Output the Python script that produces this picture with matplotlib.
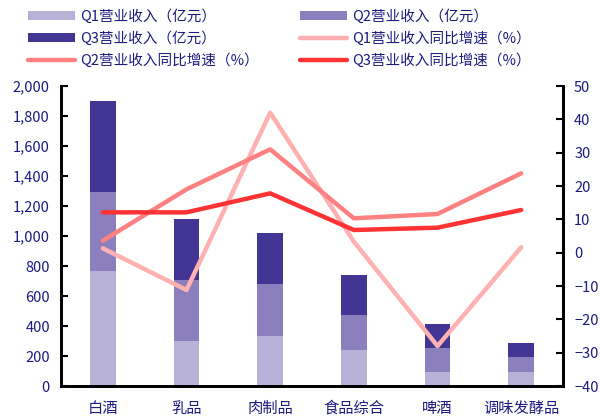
import matplotlib.pyplot as plt
import numpy as np

plt.rcParams['font.family'] = ['Noto Sans CJK SC', 'DejaVu Sans']

categories = ['白酒', '乳品', '肉制品', '食品综合', '啤酒', '调味发酵品']
q1_rev = [765, 302, 333, 240, 93, 93]
q2_rev = [528, 405, 347, 233, 163, 103]
q3_rev = [609, 404, 342, 267, 157, 93]
q1_yoy = [1.3, -11.2, 42.0, 3.3, -28.0, 1.6]
q2_yoy = [3.6, 19.0, 31.0, 10.3, 11.6, 23.8]
q3_yoy = [12.1, 12.1, 17.8, 6.8, 7.5, 12.8]

navy = '#1f1a80'
c_bar = ['#b7b1d8', '#8b80bd', '#433594']
c_line = ['#ffb0b0', '#ff8080', '#ff3333']

fig = plt.figure(figsize=(6, 4.18), dpi=100)
ax = fig.add_axes([61/600, 1 - 386/418, (563-61)/600, 300/418])
ax2 = ax.twinx()

x = np.arange(len(categories))
w = 0.31
q1 = np.array(q1_rev)
q2 = np.array(q2_rev)
q3 = np.array(q3_rev)
b1 = ax.bar(x, q1, w, color=c_bar[0], label='Q1营业收入（亿元）')
b2 = ax.bar(x, q2, w, bottom=q1, color=c_bar[1], label='Q2营业收入（亿元）')
b3 = ax.bar(x, q3, w, bottom=q1 + q2, color=c_bar[2], label='Q3营业收入（亿元）')

l1, = ax2.plot(x, q1_yoy, color=c_line[0], lw=3.2, solid_capstyle='round', label='Q1营业收入同比增速（%）')
l2, = ax2.plot(x, q2_yoy, color=c_line[1], lw=3.2, solid_capstyle='round', label='Q2营业收入同比增速（%）')
l3, = ax2.plot(x, q3_yoy, color=c_line[2], lw=3.2, solid_capstyle='round', label='Q3营业收入同比增速（%）')

ax.set_xlim(-0.5, len(categories) - 0.5)
ax.set_ylim(0, 2000)
ax.set_yticks(range(0, 2001, 200))
ax.set_yticklabels([f'{v:,}' for v in range(0, 2001, 200)])
ax2.set_ylim(-40, 50)
ax2.set_yticks(range(-40, 51, 10))

ax.set_xticks(x)
ax.set_xticklabels(categories)
ax.tick_params(axis='x', length=0, pad=10, labelsize=11, labelcolor=navy)
ax.tick_params(axis='y', direction='in', length=5, width=1.5, labelsize=10.5, labelcolor=navy, pad=8)
ax2.tick_params(axis='y', direction='in', length=5, width=1.5, labelsize=10.5, labelcolor=navy, pad=8)

for a in (ax, ax2):
    a.spines['top'].set_visible(False)
    for s in ('left', 'right', 'bottom'):
        a.spines[s].set_linewidth(2)
        a.spines[s].set_color('black')

handles = [b1, b3, l2, b2, l1, l3]
labels = [h.get_label() for h in handles]
leg = fig.legend(handles, labels, ncol=2, loc='upper left', bbox_to_anchor=(0.025, 1.01),
                 frameon=False, fontsize=10.5, handlelength=3.2, handleheight=0.6,
                 columnspacing=2.85, labelspacing=0.5, handletextpad=0.35)
for t in leg.get_texts():
    t.set_color(navy)

fig.savefig('out.png', dpi=100)
